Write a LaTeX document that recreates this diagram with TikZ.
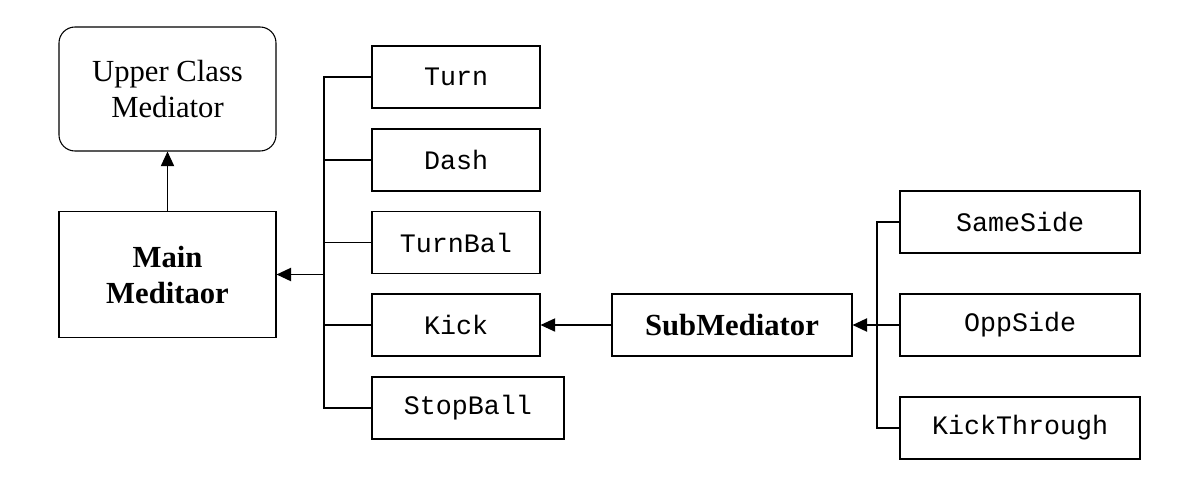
\documentclass[tikz,border=0pt]{standalone}
\usepackage{fontspec}
\setmainfont{Liberation Serif}
\setmonofont{Liberation Mono}
\usetikzlibrary{arrows.meta,positioning}
\tikzset{
	box/.style={draw,thick,inner sep=0pt},
	cmd/.style={box,font=\fontsize{20}{23}\selectfont\ttfamily,minimum height=46.5pt},
	med/.style={box,font=\fontsize{23}{27}\selectfont\bfseries,align=center},
	tip/.style={-{Triangle[length=11pt,width=10pt]}},
	bus/.style={thick}
}
\begin{document}
\begin{tikzpicture}[x=0.75pt,y=-0.75pt]
	\useasboundingbox (0,0) rectangle (1194,487);
	% mediators
	\node [box,rounded corners=12pt,minimum width=162.75pt,minimum height=93pt,
		font=\fontsize{23}{27}\selectfont,align=center] (upper) at (167.5,89) {Upper Class\\Mediator};
	\node [med,minimum width=162.75pt,minimum height=95pt] (main) at (167.5,274.5) {Main\\Meditaor};
	\node [med,minimum width=180pt,minimum height=46.5pt] (sub) at (732,325) {SubMediator};
	% commands
	\node [cmd,minimum width=126pt]  (turn)  at (456,77)  {Turn};
	\node [cmd,minimum width=126pt]  (dash)  at (456,160) {Dash};
	\node [cmd,minimum width=126pt]  (tball) at (456,242.5) {TurnBal};
	\node [cmd,minimum width=126pt]  (kick)  at (456,325) {Kick};
	\node [cmd,minimum width=144pt]  (stop)  at (468,408) {StopBall};
	\node [cmd,minimum width=180pt]  (same)  at (1020,222) {SameSide};
	\node [cmd,minimum width=180pt]  (opp)   at (1020,325) {OppSide};
	\node [cmd,minimum width=180pt]  (kthr)  at (1020,428) {KickThrough};
	\coordinate (b1) at (324,274.5);
	\coordinate (b2) at (877,325);
	% connectors
	\draw [tip,thick] (main) -- (upper);
	\draw [bus] (turn.west) -| (b1) |- (stop.west);
	\foreach \n in {dash,tball,kick} \draw [bus] (\n.west) -- (\n.west -| b1);
	\draw [tip,very thick] (b1) -- (main.east);
	\draw [tip,thick] (sub) -- (kick);
	\draw [bus] (same.west) -| (b2) |- (kthr.west);
	\draw [tip,very thick] (opp.west) -- (sub.east);
\end{tikzpicture}
\end{document}
